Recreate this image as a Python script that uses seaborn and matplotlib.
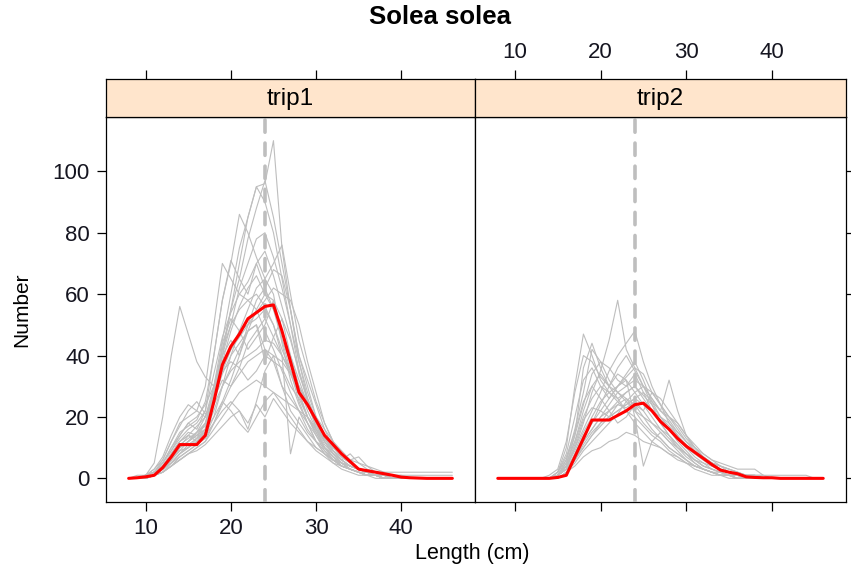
import numpy as np
import pandas as pd
import matplotlib
matplotlib.use("Agg")
import matplotlib.pyplot as plt
import seaborn as sns

sns.set_theme(style="white")
plt.rcParams['font.family'] = ['Liberation Sans', 'DejaVu Sans']

# ---------------- data ----------------
lengths = list(range(8, 47))  # 8..46 cm
ref_length = 24
panels = ["trip1", "trip2"]

# mean (red) curves
mean_trip1 = [0, 0.2, 0.5, 1, 3.5, 7, 11, 11, 11, 14, 25, 37, 43, 47, 52, 54, 56, 56.5, 48,
              38, 28, 24, 19, 14, 11, 8, 5.5, 3, 2.5, 2, 1.5, 1, 0.4, 0.2, 0.1, 0, 0, 0, 0]
mean_trip2 = [0, 0, 0, 0, 0, 0, 0, 0.3, 1, 7, 13, 19, 19, 19, 20.5, 22, 24, 24.5, 22,
              18.5, 16, 13, 10.5, 8.5, 6.5, 4.5, 2.7, 2, 1.5, 0.5, 0.3, 0.2, 0.2, 0, 0, 0, 0, 0, 0]

# individual hauls, trip1
h1_01 = [0,0,1,5,20, 40,56,47,38,33, 30,40,45,40,48, 50,42,38,30,26, 22,18,12,9,6, 4,3,2,2,1, 1,0,0,0,0, 0,0,0,0]
h1_02 = [0,0,0,1,3, 6,10,12,14,16, 25,40,55,70,85, 95,96,110,75,55, 40,30,20,14,9, 6,4,3,2,1, 1,0,0,0,0, 0,0,0,0]
h1_03 = [0,0,1,2,4, 8,12,14,12,16, 30,45,60,75,85, 95,90,80,65,50, 35,25,18,12,8, 5,3,2,1,1, 0,0,0,0,0, 0,0,0,0]
h1_04 = [0,0,0,1,3, 6,9,10,13,18, 28,42,55,65,78, 88,97,85,70,55, 38,26,16,10,7, 4,3,2,1,1, 0,0,0,0,0, 0,0,0,0]
h1_05 = [0,0,1,2,5, 10,14,18,16,22, 40,58,70,86,80, 72,65,60,45,38, 28,20,14,9,6, 4,3,2,1,1, 0,0,0,0,0, 0,0,0,0]
h1_06 = [0,0,0,1,2, 4,7,9,11,14, 20,30,40,48,55, 62,65,70,76,60, 45,35,25,18,12, 7,5,3,2,1, 1,0,0,0,0, 0,0,0,0]
h1_07 = [0,0,1,3,6, 12,18,20,22,30, 50,70,65,60,58, 55,48,42,35,28, 22,16,12,8,5, 3,2,1,1,0, 0,0,0,0,0, 0,0,0,0]
h1_08 = [0,0,1,2,5, 10,15,17,19,25, 40,58,71,65,60, 70,62,55,45,35, 25,18,12,8,6, 4,3,2,1,1, 0,0,0,0,0, 0,0,0,0]
h1_09 = [0,0,1,2,3, 5,8,10,12,14, 18,22,25,22,16, 25,35,40,30,22, 18,14,10,8,6, 5,4,3,2,2, 1,1,1,0,0, 0,0,0,0]
h1_10 = [0,0,0,1,3, 6,10,12,15,20, 30,42,50,55,58, 60,56,50,42,35, 28,20,15,10,7, 5,3,2,1,1, 0,0,0,0,0, 0,0,0,0]
h1_11 = [0,0,1,2,4, 8,12,14,13,15, 22,30,35,38,40, 42,45,44,40,35, 30,25,18,12,8, 6,4,3,2,2, 1,1,0,0,0, 0,0,0,0]
h1_12 = [0,0,0,1,3, 5,8,10,12,15, 25,35,42,48,50, 52,55,50,40,8, 20,15,12,10,8, 5,3,2,1,1, 0,0,0,0,0, 0,0,0,0]
h1_13 = [0,0,1,2,5, 9,14,18,20,24, 30,35,38,36,32, 35,40,38,36,30, 26,20,16,12,9, 7,5,3,2,1, 1,1,0,0,0, 0,0,0,0]
h1_14 = [0,0,0,1,2, 4,6,8,10,12, 18,25,32,40,50, 58,62,68,66,55, 40,32,24,16,10, 7,5,3,2,1, 1,0,0,0,0, 0,0,0,0]
h1_15 = [0,0,1,2,4, 7,10,12,14,18, 28,40,50,62,70, 78,80,72,62,50, 38,28,20,14,9, 6,4,3,2,1, 1,0,0,0,0, 0,0,0,0]
h1_16 = [0,1,1,1,2, 4,6,8,10,12, 16,20,24,28,30, 32,30,28,26,24, 22,20,16,13,10, 8,6,5,4,3, 2,2,2,2,2, 2,2,2,2]
h1_17 = [0,0,1,1,3, 6,9,12,15,18, 24,30,36,42,48, 55,60,58,52,45, 35,26,19,13,9, 6,8,5,3,2, 2,1,1,1,1, 1,1,1,1]
h1_18 = [0,0,1,2,4, 8,12,15,14,16, 20,25,22,18,15, 20,25,28,24,20, 16,12,9,7,5, 4,3,2,1,1, 0,0,0,0,0, 0,0,0,0]
h1_19 = [0,0,0,1,2, 5,8,11,13,16, 26,38,48,56,62, 66,60,55,48,40, 32,24,17,12,8, 5,4,3,2,1, 1,0,0,0,0, 0,0,0,0]
h1_20 = [0,0,1,2,5, 9,13,16,18,22, 34,46,54,60,64, 70,74,66,56,46, 34,26,19,13,9, 6,4,3,2,1, 1,0,0,0,0, 0,0,0,0]
h1_21 = [0,0,0,1,3, 6,10,14,17,20, 28,36,42,46,50, 54,58,62,60,58, 50,38,28,18,12, 8,5,3,2,1, 1,0,0,0,0, 0,0,0,0]
h1_22 = [0,0,1,2,3, 5,7,9,11,13, 18,24,30,34,38, 40,42,40,38,34, 30,24,20,16,12, 9,6,7,4,2, 1,1,0,0,0, 0,0,0,0]
h1_23 = [0,0,0,1,2, 4,6,8,9,11, 14,17,20,22,18, 24,20,26,22,18, 15,12,10,8,6, 5,4,3,2,1, 1,0,0,0,0, 0,0,0,0]
h1_24 = [0,0,1,2,4, 7,11,13,15,17, 26,34,40,44,48, 50,38,46,52,40, 30,22,16,11,8, 6,4,3,2,1, 1,0,0,0,0, 0,0,0,0]
h1_25 = [0,0,1,3,7, 14,20,24,22,20, 26,32,30,36,44, 48,52,46,40,34, 27,20,15,10,7, 5,3,2,1,1, 0,0,0,0,0, 0,0,0,0]
h1_26 = [0,0,1,2,6, 12,17,22,25,21, 24,44,52,48,42, 46,50,58,44,32, 24,18,14,10,6, 4,3,2,1,1, 0,0,0,0,0, 0,0,0,0]

# individual hauls, trip2
h2_01 = [0,0,0,0,0, 0,0,1,3,10, 18,28,35,45,58, 42,36,30,24,18, 14,10,7,5,3, 2,1,1,0,0, 0,0,0,0,0, 0,0,0,0]
h2_02 = [0,0,0,0,0, 0,0,2,10,30, 47,40,32,28,25, 22,20,17,14,12, 9,7,5,3,2, 1,1,0,0,0, 0,0,0,0,0, 0,0,0,0]
h2_03 = [0,0,0,0,0, 0,0,1,4,10, 16,22,28,35,40, 44,48,38,30,24, 18,14,10,7,5, 3,2,1,1,0, 0,0,0,0,0, 0,0,0,0]
h2_04 = [0,0,0,0,0, 0,1,3,12,28, 40,38,33,30,28, 26,24,20,16,13, 10,8,6,4,3, 2,1,1,0,0, 0,0,0,0,0, 0,0,0,0]
h2_05 = [0,0,0,0,0, 0,0,1,3,6, 10,14,18,20,22, 24,26,28,25,22, 32,22,14,10,7, 5,3,2,1,1, 0,0,0,0,0, 0,0,0,0]
h2_06 = [0,0,0,0,0, 0,0,1,4,9, 15,20,25,28,30, 32,20,4,12,15, 12,9,6,4,3, 2,1,1,0,0, 0,0,0,0,0, 0,0,0,0]
h2_07 = [0,0,0,0,0, 0,0,2,6,14, 24,34,38,36,32, 30,34,28,22,18, 14,11,8,6,4, 3,2,1,1,0, 0,0,0,0,0, 0,0,0,0]
h2_08 = [0,0,0,0,0, 0,0,1,3,7, 12,16,20,22,25, 28,30,27,24,20, 17,14,11,8,6, 4,3,2,1,1, 1,0,0,0,0, 0,0,0,0]
h2_09 = [0,0,0,0,0, 0,0,0,2,4, 7,9,10,12,13, 15,14,12,11,10, 8,7,5,4,3, 2,2,1,1,0, 0,0,0,0,0, 0,0,0,0]
h2_10 = [0,0,0,0,0, 0,0,2,8,20, 32,36,30,26,30, 34,38,32,25,20, 16,12,9,6,4, 3,2,1,1,0, 0,0,0,0,0, 0,0,0,0]
h2_11 = [0,0,0,0,0, 0,0,1,5,12, 20,26,30,28,26, 28,30,26,22,19, 16,13,10,8,6, 5,4,3,2,1, 1,1,0,0,0, 0,0,0,0]
h2_12 = [0,0,0,0,0, 0,0,1,3,6, 10,14,17,20,22, 24,26,24,22,20, 18,15,12,10,8, 6,5,4,3,3, 3,1,1,1,1, 1,1,0,0]
h2_13 = [0,0,0,0,0, 0,0,1,6,16, 28,42,38,32,28, 25,22,20,18,16, 14,11,8,5,3, 2,1,1,0,0, 0,0,0,0,0, 0,0,0,0]
h2_14 = [0,0,0,0,0, 0,0,0,2,5, 9,12,15,18,21, 25,28,30,26,22, 20,18,14,10,7, 5,3,2,1,1, 0,0,0,0,0, 0,0,0,0]
h2_15 = [0,0,0,0,0, 0,0,1,4,11, 19,23,22,20,24, 26,22,18,15,13, 10,8,6,4,3, 2,1,1,0,0, 0,0,0,0,0, 0,0,0,0]
h2_16 = [0,0,0,0,0, 0,0,1,3,8, 14,18,24,30,36, 40,35,30,26,22, 19,15,12,9,6, 4,3,2,1,1, 0,0,0,0,0, 0,0,0,0]
h2_17 = [0,0,0,0,0, 0,0,2,7,15, 25,30,26,22,18, 20,24,22,18,15, 12,10,8,6,5, 4,3,2,1,1, 1,0,0,0,0, 0,0,0,0]
h2_18 = [0,0,0,0,0, 0,0,1,3,6, 11,15,18,22,24, 23,25,22,28,24, 20,16,12,9,7, 5,4,2,1,1, 0,0,0,0,0, 0,0,0,0]
h2_19 = [0,0,0,0,0, 0,0,1,5,12, 22,30,34,30,26, 22,18,15,12,10, 8,6,5,4,3, 2,1,1,0,0, 0,0,0,0,0, 0,0,0,0]
h2_20 = [0,0,0,0,0, 0,0,0,2,6, 12,16,20,24,28, 30,32,30,28,24, 20,17,13,10,7, 5,4,3,2,1, 1,1,0,0,0, 0,0,0,0]
h2_21 = [0,0,0,0,0, 0,0,1,4,14, 36,44,36,30,34, 32,28,24,20,16, 13,10,8,6,4, 3,2,1,1,0, 0,0,0,0,0, 0,0,0,0]
h2_22 = [0,0,0,0,0, 0,0,1,3,7, 13,18,22,26,30, 33,36,34,28,26, 22,18,14,11,8, 6,4,3,2,1, 1,0,0,0,0, 0,0,0,0]

hauls = {
    "trip1": [h1_01, h1_02, h1_03, h1_04, h1_05, h1_06, h1_07, h1_08, h1_09, h1_10, h1_11, h1_12, h1_13,
              h1_14, h1_15, h1_16, h1_17, h1_18, h1_19, h1_20, h1_21, h1_22, h1_23, h1_24, h1_25, h1_26],
    "trip2": [h2_01, h2_02, h2_03, h2_04, h2_05, h2_06, h2_07, h2_08, h2_09, h2_10, h2_11,
              h2_12, h2_13, h2_14, h2_15, h2_16, h2_17, h2_18, h2_19, h2_20, h2_21, h2_22],
}
means = {"trip1": mean_trip1, "trip2": mean_trip2}

x_ticks = [10, 20, 30, 40]
y_ticks = [0, 20, 40, 60, 80, 100]

# ---------------- build tables ----------------
rows = []
for p in panels:
    for i, h in enumerate(hauls[p]):
        for L, v in zip(lengths, h):
            rows.append((p, i, L, v))
df = pd.DataFrame(rows, columns=["trip", "haul", "length", "number"])
mean_rows = []
for p in panels:
    for L, v in zip(lengths, means[p]):
        mean_rows.append((p, L, v))
dfm = pd.DataFrame(mean_rows, columns=["trip", "length", "number"])

# ---------------- figure ----------------
W, H = 851, 573
fig = plt.figure(figsize=(W / 100, H / 100), dpi=100)

def fx(px):
    return px / W

def fy(py):
    return 1 - py / H

xmin, xmax = 8, 46
xr = xmax - xmin
xlim = (xmin - 0.07 * xr, xmax + 0.07 * xr)
ymax = 110
ylim = (-0.07 * ymax, ymax * 1.07)

panel_x = [(106, 475), (475, 846)]
ptop, pbot = 117, 502
stop = 79

txt_col = "#151520"
gray = "#bebebe"
tick_len = 6.2
tick_pad = 5.5
tick_fs = 16

for k, p in enumerate(panels):
    x0, x1 = panel_x[k]
    ax = fig.add_axes([fx(x0), fy(pbot), fx(x1 - x0), fy(ptop) - fy(pbot)])
    sax = fig.add_axes([fx(x0), fy(ptop), fx(x1 - x0), fy(stop) - fy(ptop)])

    sub = df[df.trip == p]
    sns.lineplot(data=sub, x="length", y="number", units="haul", estimator=None,
                 color=gray, linewidth=0.8, ax=ax, legend=False)
    ax.axvline(ref_length, color=gray, linewidth=2.6, linestyle=(0, (3.4, 3.0)),
               dash_capstyle="round", zorder=3)
    sns.lineplot(data=dfm[dfm.trip == p], x="length", y="number", color="#ff0000",
                 linewidth=2.2, ax=ax, legend=False, zorder=4)

    ax.set_xlim(xlim)
    ax.set_ylim(ylim)
    ax.set_xlabel("")
    ax.set_ylabel("")
    ax.set_xticks(x_ticks)
    ax.set_yticks(y_ticks)
    for s in ax.spines.values():
        s.set_color("black")
        s.set_linewidth(0.9)
        s.set_visible(True)

    if k == 0:
        ax.tick_params(axis="x", bottom=True, top=False, labelbottom=True, direction="out",
                       length=tick_len, width=0.9, colors="black", labelcolor=txt_col,
                       labelsize=tick_fs, pad=tick_pad)
        ax.tick_params(axis="y", left=True, right=False, labelleft=True, direction="out",
                       length=tick_len, width=0.9, colors="black", labelcolor=txt_col,
                       labelsize=tick_fs, pad=tick_pad)
    else:
        ax.tick_params(axis="x", bottom=True, top=False, labelbottom=False, direction="out",
                       length=tick_len, width=0.9, colors="black")
        ax.tick_params(axis="y", left=False, right=True, labelleft=False, labelright=False,
                       direction="out", length=tick_len, width=0.9, colors="black")

    # strip
    sax.set_facecolor("#ffe5cc")
    sax.set_xlim(xlim)
    sax.set_ylim(0, 1)
    sax.set_yticks([])
    sax.set_xticks(x_ticks)
    sax.xaxis.set_ticks_position("top")
    sax.tick_params(axis="x", top=True, bottom=False, labeltop=(k == 1), labelbottom=False,
                    direction="out", length=tick_len, width=0.9, colors="black",
                    labelcolor=txt_col, labelsize=tick_fs, pad=tick_pad)
    for s in sax.spines.values():
        s.set_color("black")
        s.set_linewidth(0.9)
        s.set_visible(True)
    sax.text(0.5, 0.47, p, transform=sax.transAxes, ha="center", va="center",
             fontsize=17.5, color="black")

fig.text(fx(440), fy(17), "Solea solea", ha="center", va="center", fontsize=18.5,
         fontweight="bold", color="black")
fig.text(fx(22), fy(310), "Number", ha="center", va="center", rotation=90, fontsize=15,
         color="black")
fig.text(fx(472), fy(554), "Length (cm)", ha="center", va="center", fontsize=15.5,
         color="black")

fig.savefig("out.png", dpi=100)
